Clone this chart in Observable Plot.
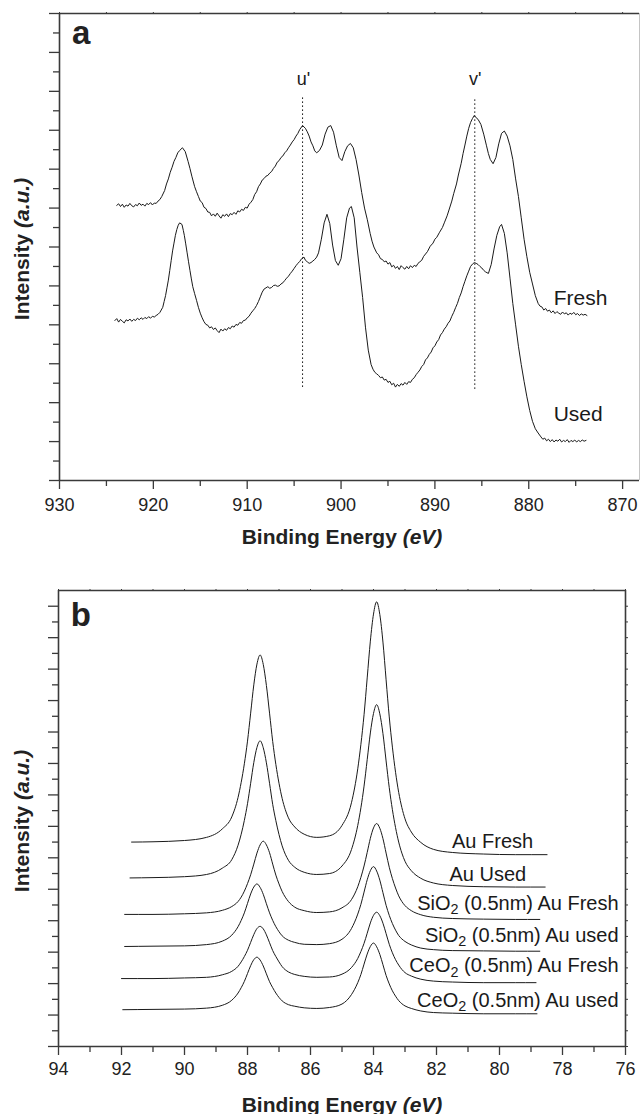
<!DOCTYPE html>
<html><head><meta charset="utf-8">
<script src="https://cdn.jsdelivr.net/npm/d3@7"></script>
<script src="https://cdn.jsdelivr.net/npm/@observablehq/plot@0.6"></script>
<style>
body{margin:0;background:#fff;}
#wrap{position:relative;width:640px;height:1114px;overflow:hidden;background:#fff;}
</style></head><body><div id="wrap"></div>
<script>
// ---------- Panel a: Ce 3d spectra (binding energy eV, intensity a.u.) ----------
const ceFresh = [[923.9,7.07],[923.7,7.11],[923.5,7.04],[923.3,7.10],[923.1,7.02],[922.9,7.08],[922.7,7.05],[922.5,7.12],[922.3,7.06],[922.1,7.03],[921.9,7.09],[921.7,7.06],[921.5,7.13],[921.3,7.07],[921.1,7.10],[920.9,7.05],[920.7,7.12],[920.5,7.09],[920.3,7.14],[920.1,7.08],[919.9,7.13],[919.7,7.12],[919.5,7.18],[919.3,7.22],[919.1,7.30],[918.8,7.45],[918.6,7.62],[918.4,7.75],[918.2,7.92],[918.0,8.05],[917.8,8.20],[917.6,8.30],[917.4,8.42],[917.2,8.48],[916.9,8.55],[916.6,8.45],[916.3,8.20],[916.1,8.02],[915.9,7.82],[915.6,7.55],[915.4,7.42],[915.2,7.30],[915.0,7.18],[914.8,7.14],[914.6,7.02],[914.4,6.99],[914.2,6.90],[914.0,6.89],[913.8,6.80],[913.6,6.85],[913.4,6.79],[913.2,6.87],[913.0,6.80],[912.8,6.74],[912.6,6.83],[912.4,6.79],[912.2,6.85],[912.0,6.78],[911.8,6.86],[911.6,6.83],[911.4,6.89],[911.2,6.84],[911.0,6.93],[910.8,6.90],[910.6,6.97],[910.4,6.94],[910.2,7.02],[910.0,7.00],[909.8,7.10],[909.6,7.15],[909.4,7.22],[909.2,7.35],[909.0,7.42],[908.8,7.55],[908.6,7.62],[908.4,7.72],[908.2,7.76],[908.0,7.82],[907.8,7.84],[907.6,7.90],[907.4,7.94],[907.2,8.02],[907.0,8.08],[906.8,8.18],[906.6,8.22],[906.4,8.30],[906.2,8.34],[906.0,8.42],[905.8,8.47],[905.6,8.55],[905.4,8.62],[905.2,8.70],[905.0,8.76],[904.8,8.85],[904.6,8.92],[904.4,9.02],[904.1,9.12],[903.8,9.05],[903.6,8.96],[903.4,8.85],[903.2,8.70],[903.0,8.60],[902.8,8.47],[902.6,8.42],[902.3,8.48],[902.0,8.62],[901.7,8.90],[901.4,9.08],[901.1,9.12],[900.8,8.95],[900.5,8.60],[900.2,8.30],[899.9,8.22],[899.6,8.45],[899.3,8.60],[899.0,8.66],[898.7,8.55],[898.4,8.25],[898.1,7.85],[897.8,7.40],[897.5,7.00],[897.2,6.70],[896.9,6.35],[896.7,6.15],[896.5,6.00],[896.2,5.85],[896.0,5.80],[895.8,5.70],[895.6,5.68],[895.4,5.62],[895.2,5.64],[895.0,5.56],[894.8,5.60],[894.6,5.49],[894.4,5.53],[894.2,5.45],[894.0,5.50],[893.8,5.42],[893.6,5.52],[893.4,5.47],[893.2,5.43],[893.0,5.50],[892.8,5.44],[892.6,5.52],[892.4,5.47],[892.2,5.53],[892.0,5.50],[891.8,5.58],[891.6,5.62],[891.4,5.66],[891.2,5.76],[891.0,5.82],[890.8,5.88],[890.5,6.02],[890.2,6.10],[890.0,6.20],[889.8,6.25],[889.5,6.38],[889.2,6.50],[889.0,6.62],[888.7,6.80],[888.5,6.95],[888.2,7.18],[888.0,7.37],[887.7,7.62],[887.5,7.85],[887.2,8.15],[887.0,8.40],[886.8,8.62],[886.6,8.85],[886.4,9.05],[886.2,9.20],[886.0,9.30],[885.8,9.38],[885.6,9.32],[885.4,9.28],[885.1,9.15],[884.8,8.90],[884.5,8.60],[884.3,8.40],[884.1,8.25],[883.8,8.14],[883.5,8.30],[883.2,8.65],[882.9,8.92],[882.6,8.98],[882.3,8.85],[882.0,8.60],[881.7,8.25],[881.4,7.75],[881.1,7.30],[880.8,6.75],[880.5,6.20],[880.2,5.75],[879.9,5.35],[879.6,5.05],[879.3,4.75],[879.0,4.55],[878.8,4.48],[878.6,4.46],[878.4,4.38],[878.2,4.42],[878.0,4.35],[877.8,4.38],[877.6,4.31],[877.4,4.36],[877.2,4.29],[877.0,4.34],[876.8,4.30],[876.6,4.27],[876.4,4.33],[876.2,4.28],[876.0,4.31],[875.8,4.25],[875.6,4.30],[875.4,4.27],[875.2,4.32],[875.0,4.26],[874.8,4.29],[874.6,4.24],[874.4,4.28],[874.2,4.25],[874.0,4.27],[873.8,4.24]];

const ceUsed = [[924.1,4.11],[923.9,4.16],[923.7,4.07],[923.5,4.14],[923.3,4.09],[923.1,4.05],[922.9,4.13],[922.7,4.10],[922.5,4.15],[922.3,4.09],[922.1,4.14],[921.9,4.11],[921.7,4.17],[921.5,4.13],[921.3,4.18],[921.1,4.14],[920.9,4.19],[920.7,4.16],[920.5,4.21],[920.3,4.17],[920.1,4.22],[919.9,4.20],[919.7,4.24],[919.5,4.27],[919.3,4.32],[919.0,4.45],[918.85,4.60],[918.7,4.75],[918.55,4.95],[918.4,5.15],[918.25,5.40],[918.1,5.65],[917.95,5.90],[917.8,6.10],[917.65,6.30],[917.5,6.45],[917.35,6.56],[917.2,6.62],[916.95,6.58],[916.8,6.42],[916.7,6.30],[916.55,6.08],[916.4,5.85],[916.25,5.62],[916.1,5.40],[915.95,5.18],[915.8,4.98],[915.6,4.80],[915.4,4.63],[915.2,4.45],[915.0,4.30],[914.8,4.18],[914.6,4.08],[914.4,4.01],[914.2,3.99],[914.0,3.92],[913.8,3.95],[913.6,3.88],[913.4,3.92],[913.2,3.85],[913.0,3.80],[912.8,3.89],[912.6,3.84],[912.4,3.90],[912.2,3.86],[912.0,3.93],[911.8,3.90],[911.6,3.97],[911.4,3.94],[911.2,4.01],[911.0,3.99],[910.8,4.06],[910.6,4.04],[910.4,4.11],[910.2,4.12],[910.0,4.18],[909.8,4.22],[909.6,4.30],[909.4,4.36],[909.2,4.42],[909.0,4.50],[908.8,4.60],[908.6,4.72],[908.4,4.84],[908.2,4.92],[908.0,4.95],[907.8,4.98],[907.6,4.94],[907.4,4.96],[907.2,5.01],[907.0,5.02],[906.8,4.99],[906.6,5.00],[906.4,5.05],[906.2,5.08],[906.0,5.14],[905.8,5.20],[905.6,5.25],[905.4,5.32],[905.2,5.38],[905.0,5.45],[904.8,5.52],[904.6,5.58],[904.4,5.63],[904.2,5.70],[903.95,5.74],[903.8,5.66],[903.6,5.62],[903.4,5.58],[903.2,5.60],[903.0,5.64],[902.8,5.68],[902.6,5.74],[902.4,5.85],[902.1,6.20],[901.8,6.62],[901.5,6.84],[901.2,6.60],[900.9,6.05],[900.6,5.65],[900.3,5.53],[900.0,5.70],[899.7,6.20],[899.4,6.75],[899.1,7.00],[898.9,7.04],[898.6,6.75],[898.3,6.00],[898.0,5.35],[897.7,4.70],[897.4,3.94],[897.1,3.35],[896.8,2.98],[896.6,2.86],[896.4,2.78],[896.2,2.74],[896.0,2.70],[895.8,2.64],[895.6,2.66],[895.4,2.58],[895.2,2.60],[895.0,2.52],[894.8,2.55],[894.6,2.46],[894.4,2.50],[894.2,2.40],[894.0,2.47],[893.8,2.42],[893.6,2.49],[893.4,2.45],[893.2,2.52],[893.0,2.47],[892.8,2.54],[892.6,2.52],[892.4,2.60],[892.2,2.64],[892.0,2.72],[891.8,2.78],[891.6,2.84],[891.4,2.93],[891.2,2.98],[891.0,3.10],[890.8,3.15],[890.6,3.24],[890.4,3.30],[890.2,3.41],[890.0,3.46],[889.8,3.56],[889.6,3.62],[889.4,3.74],[889.2,3.80],[889.0,3.89],[888.8,3.95],[888.6,4.04],[888.4,4.10],[888.2,4.22],[888.0,4.32],[887.8,4.44],[887.6,4.55],[887.4,4.70],[887.2,4.82],[887.0,4.98],[886.8,5.12],[886.6,5.26],[886.4,5.38],[886.2,5.50],[886.0,5.56],[885.8,5.60],[885.6,5.58],[885.4,5.55],[885.2,5.50],[885.0,5.46],[884.8,5.40],[884.6,5.36],[884.3,5.32],[884.0,5.55],[883.7,5.95],[883.4,6.30],[883.1,6.52],[882.9,6.58],[882.6,6.35],[882.3,5.85],[882.0,5.20],[881.7,4.55],[881.4,4.00],[881.1,3.45],[880.8,2.98],[880.5,2.55],[880.2,2.15],[879.9,1.80],[879.6,1.52],[879.3,1.33],[879.0,1.22],[878.7,1.12],[878.5,1.06],[878.3,1.09],[878.1,1.02],[877.9,1.06],[877.7,1.00],[877.5,1.05],[877.3,0.99],[877.1,1.04],[876.9,1.01],[876.7,1.06],[876.5,0.99],[876.3,1.03],[876.1,1.00],[875.9,1.05],[875.7,0.98],[875.5,1.03],[875.3,1.00],[875.1,1.04],[874.9,0.99],[874.7,1.03],[874.5,1.00],[874.3,1.04],[874.1,1.01],[873.9,1.03]];

const ceMarkNames = ["u'", "v'"];
const ceMarkX = [904.1, 885.75];
const ceMarkTop = [9.85, 9.82];
const ceMarkBottom = [2.39, 2.34];
const ceMarkLabelX = [904.0, 885.7];
const ceMarkLabelY = [10.31, 10.31];

const ceSeriesNames = ["Fresh", "Used"];
const ceSeriesLabelX = [877.35, 877.35];
const ceSeriesLabelY = [4.69, 1.69];

const aMajorX = [930, 920, 910, 900, 890, 880, 870];
const aMinorX = [925, 915, 905, 895, 885, 875];
const aMajorY = [0,1,2,3,4,5,6,7,8,9,10,11,12];
const aMinorY = [0.5,1.5,2.5,3.5,4.5,5.5,6.5,7.5,8.5,9.5,10.5,11.5];

// ---------- Panel b: Au 4f spectra ----------
const auSeries = ["Au Fresh", "Au Used", "SiO2 (0.5nm) Au Fresh", "SiO2 (0.5nm) Au used", "CeO2 (0.5nm) Au Fresh", "CeO2 (0.5nm) Au used"];
const auStartX = [91.68, 91.73, 91.9, 91.9, 92.0, 91.96];
const auEndX = [78.49, 78.55, 78.72, 78.72, 78.84, 78.81];
const auGrid = [91.0,90.0,89.3,88.8,88.5,88.3,88.2,88.1,88.0,87.9,87.8,87.7,87.6,87.5,87.4,87.3,87.2,87.1,87.0,86.9,86.7,86.5,86.2,85.8,85.4,85.0,84.7,84.5,84.4,84.3,84.2,84.1,84.0,83.9,83.8,83.7,83.6,83.5,83.4,83.3,83.2,83.1,83.0,82.8,82.5,82.1,81.5,80.5,79.5];
const auFresh = [6.50,6.51,6.55,6.65,6.92,7.30,7.92,8.40,8.99,9.71,10.60,11.50,12.16,12.45,12.15,11.48,10.60,9.70,8.97,8.37,7.89,7.27,6.98,6.75,6.65,6.70,7.03,7.75,8.83,9.61,10.55,11.72,12.89,13.75,14.14,13.74,12.86,11.66,10.48,9.52,8.72,8.08,7.60,7.24,6.82,6.49,6.27,6.17,6.12,6.10,6.10];
const auUsed = [5.36,5.37,5.40,5.47,5.67,5.94,6.40,6.75,7.19,7.72,8.37,9.03,9.51,9.72,9.50,9.02,8.37,7.70,7.18,6.74,6.38,5.92,5.70,5.54,5.47,5.50,5.74,6.26,7.03,7.59,8.28,9.12,9.97,10.59,10.87,10.58,9.95,9.08,8.23,7.53,6.96,6.50,6.15,5.89,5.59,5.35,5.20,5.12,5.08,5.07,5.07];
const siFresh = [4.20,4.20,4.22,4.25,4.33,4.45,4.61,4.75,4.94,5.18,5.46,5.80,6.15,6.41,6.53,6.41,6.16,5.80,5.45,5.17,4.93,4.61,4.43,4.32,4.26,4.28,4.41,4.67,5.08,5.38,5.74,6.17,6.62,6.95,7.09,6.94,6.61,6.15,5.70,5.34,5.04,4.79,4.61,4.48,4.32,4.19,4.11,4.07,4.05,4.04,4.04];
const siUsed = [3.18,3.19,3.20,3.24,3.35,3.54,3.81,4.01,4.25,4.55,4.85,5.07,5.17,5.06,4.84,4.54,4.25,4.01,3.81,3.65,3.52,3.38,3.31,3.25,3.24,3.27,3.41,3.75,4.21,4.52,4.91,5.30,5.59,5.72,5.58,5.29,4.89,4.49,4.17,3.91,3.70,3.53,3.42,3.34,3.23,3.13,3.08,3.05,3.04,3.03,3.03];
const ceoFresh = [2.16,2.16,2.18,2.20,2.28,2.39,2.55,2.69,2.86,3.06,3.31,3.56,3.75,3.82,3.74,3.55,3.30,3.05,2.86,2.69,2.54,2.37,2.29,2.23,2.20,2.21,2.30,2.51,2.80,3.02,3.28,3.60,3.93,4.17,4.27,4.16,3.92,3.59,3.25,2.98,2.76,2.59,2.45,2.35,2.24,2.14,2.08,2.05,2.03,2.03,2.03];
const ceoUsed = [1.17,1.18,1.19,1.22,1.31,1.47,1.70,1.87,2.07,2.32,2.57,2.76,2.84,2.75,2.56,2.31,2.06,1.87,1.70,1.56,1.45,1.33,1.28,1.23,1.21,1.24,1.35,1.65,2.03,2.29,2.62,2.94,3.18,3.29,3.17,2.93,2.60,2.26,1.99,1.77,1.60,1.46,1.36,1.29,1.21,1.13,1.08,1.06,1.04,1.04,1.04];
const auLabelX = [80.22, 80.37, 76.22, 76.22, 76.22, 76.22];
const auLabelY = [6.52, 5.48, 4.55, 3.54, 2.56, 1.475];
const auLabelAnchor = ["middle", "middle", "end", "end", "end", "end"];

const bMajorX = [94,92,90,88,86,84,82,80,78,76];
const bMinorX = [93,91,89,87,85,83,81,79,77];
const bMajorY = [0,1,2,3,4,5,6,7,8,9,10,11,12,13,14];
const bMinorY = [0.5,1.5,2.5,3.5,4.5,5.5,6.5,7.5,8.5,9.5,10.5,11.5,12.5,13.5];

// ---------- styling ----------
const FONT = "'Liberation Sans', Arial, Helvetica, sans-serif";
const AX = "#3a3a3a";
const INK = "#1a1a1a";

function axesMarks(majX, minX, topX, majY, minY, rightY) {
  const m = [
    Plot.axisX({ticks: majX, anchor: "bottom", tickSize: 9, tickPadding: 0, tickFormat: () => "", stroke: AX, strokeWidth: 1.3, label: null}),
    Plot.axisX({ticks: minX, anchor: "bottom", tickSize: 6, tickFormat: () => "", stroke: AX, strokeWidth: 1.3, label: null}),
    Plot.axisX({ticks: topX, anchor: "top", tickSize: 2, tickFormat: () => "", stroke: AX, strokeWidth: 1, label: null}),
    Plot.axisY({ticks: majY, anchor: "left", tickSize: 10, tickFormat: () => "", stroke: AX, strokeWidth: 1.3, label: null}),
    Plot.axisY({ticks: minY, anchor: "left", tickSize: 6, tickFormat: () => "", stroke: AX, strokeWidth: 1.3, label: null})
  ];
  if (rightY) m.push(Plot.axisY({ticks: rightY, anchor: "right", tickSize: 2, tickFormat: () => "", stroke: AX, strokeWidth: 1, label: null}));
  return m;
}

// Panel a
const svgA = Plot.plot({
  width: 640, height: 555,
  marginLeft: 59, marginRight: 1, marginTop: 13, marginBottom: 75,
  style: {fontFamily: FONT, background: "transparent", overflow: "visible"},
  x: {domain: [930, 868.2], axis: null},
  y: {domain: [0, 12], axis: null},
  marks: [
    ...axesMarks(aMajorX, aMinorX, [...aMajorX, ...aMinorX], aMajorY, aMinorY, null),
    Plot.text(aMajorX, {x: d => d, frameAnchor: "bottom", dy: 25, text: d => String(d), fontSize: 18, fill: "#222", lineAnchor: "middle"}),
    Plot.ruleX(ceMarkX, {x: d => d, y1: (d, i) => ceMarkBottom[i], y2: (d, i) => ceMarkTop[i], stroke: INK, strokeWidth: 1, strokeDasharray: "1.6,2.4"}),
    Plot.line(ceFresh, {x: d => d[0], y: d => d[1], stroke: INK, strokeWidth: 1}),
    Plot.line(ceUsed, {x: d => d[0], y: d => d[1], stroke: INK, strokeWidth: 1}),
    Plot.text(ceMarkNames, {x: ceMarkLabelX, y: ceMarkLabelY, text: d => d, fontSize: 18, fill: INK, textAnchor: "middle", lineAnchor: "middle"}),
    Plot.text(ceSeriesNames, {x: ceSeriesLabelX, y: ceSeriesLabelY, text: d => d, fontSize: 21, fill: INK, textAnchor: "start", lineAnchor: "middle"}),
    Plot.text(["a"], {x: [928.68], y: [11.5], text: d => d, fontSize: 33, fontWeight: "bold", fill: "#222", textAnchor: "start", lineAnchor: "middle"}),
    Plot.ruleY([0], {stroke: AX, strokeWidth: 1.6}),
    Plot.ruleY([12], {stroke: AX, strokeWidth: 1.6}),
    Plot.ruleX([930], {stroke: AX, strokeWidth: 1.6}),
    Plot.ruleX([868.2], {stroke: "#c4c4c4", strokeWidth: 1})
  ]
});

// Panel b
const auYs = [auFresh, auUsed, siFresh, siUsed, ceoFresh, ceoUsed];
const auLines = auYs.map((ys, i) => ys.map((y, j) => ({x: j === 0 ? auStartX[i] : j === ys.length - 1 ? auEndX[i] : auGrid[j - 1], y})));
const labIdx = auSeries.map((d, i) => i);
const svgB = Plot.plot({
  width: 640, height: 559,
  marginLeft: 58, marginRight: 15, marginTop: 35, marginBottom: 68,
  style: {fontFamily: FONT, background: "transparent", overflow: "visible"},
  x: {domain: [94, 76], axis: null},
  y: {domain: [0, 14.5], axis: null},
  marks: [
    ...axesMarks(bMajorX, bMinorX, [...bMajorX, ...bMinorX], bMajorY, bMinorY, [...bMajorY, ...bMinorY]),
    Plot.text(bMajorX, {x: d => d, frameAnchor: "bottom", dy: 23, text: d => String(d), fontSize: 18, fill: "#222", lineAnchor: "middle"}),
    ...auLines.map(pts => Plot.line(pts, {x: "x", y: "y", curve: "monotone-x", stroke: INK, strokeWidth: 1})),
    Plot.text(labIdx.filter(i => auLabelAnchor[i] === "middle"), {x: i => auLabelX[i], y: i => auLabelY[i], text: i => auSeries[i], fontSize: 20, fill: INK, textAnchor: "middle", lineAnchor: "middle"}),
    Plot.text(labIdx.filter(i => auLabelAnchor[i] === "end"), {x: i => auLabelX[i], y: i => auLabelY[i], text: i => auSeries[i], fontSize: 20, fill: INK, textAnchor: "end", lineAnchor: "middle"}),
    Plot.text(["b"], {x: [93.61], y: [13.72], text: d => d, fontSize: 33, fontWeight: "bold", fill: "#222", textAnchor: "start", lineAnchor: "middle"}),
    Plot.ruleY([0], {stroke: AX, strokeWidth: 1.6}),
    Plot.ruleY([14.5], {stroke: AX, strokeWidth: 1.6}),
    Plot.ruleX([94], {stroke: AX, strokeWidth: 1.6}),
    Plot.ruleX([76], {stroke: AX, strokeWidth: 1.6})
  ]
});

// subscripts for oxide formulas
d3.select(svgB).selectAll("text").each(function () {
  const t = this.textContent;
  const m = t.match(/^(.*O)2(.*)$/);
  if (!m) return;
  const s = d3.select(this);
  s.text(null);
  s.append("tspan").text(m[1]);
  s.append("tspan").attr("font-size", "0.72em").attr("dy", "0.3em").text("2");
  s.append("tspan").attr("dy", "-0.216em").text(m[2]);
});

// axis titles with italic units
function addTitle(svg, x, y, main, unit, rotate) {
  const t = d3.select(svg).append("text")
    .attr("font-family", FONT).attr("font-size", 21).attr("font-weight", "bold")
    .attr("fill", "#222").attr("text-anchor", "middle");
  if (rotate) t.attr("transform", `translate(${x},${y}) rotate(-90)`);
  else t.attr("x", x).attr("y", y);
  t.append("tspan").text(main);
  t.append("tspan").attr("font-style", "italic").text(unit);
}
addTitle(svgA, 342, 543.5, "Binding Energy ", "(eV)", false);
addTitle(svgA, 28.5, 249, "Intensity ", "(a.u.)", true);
addTitle(svgB, 342, 556.5, "Binding Energy ", "(eV)", false);
addTitle(svgB, 28.5, 266, "Intensity ", "(a.u.)", true);

for (const [svg, top] of [[svgA, 0], [svgB, 555]]) {
  svg.style.position = "absolute";
  svg.style.left = "0px";
  svg.style.top = top + "px";
  svg.style.maxWidth = "none";
  document.getElementById("wrap").appendChild(svg);
}
</script></body></html>
